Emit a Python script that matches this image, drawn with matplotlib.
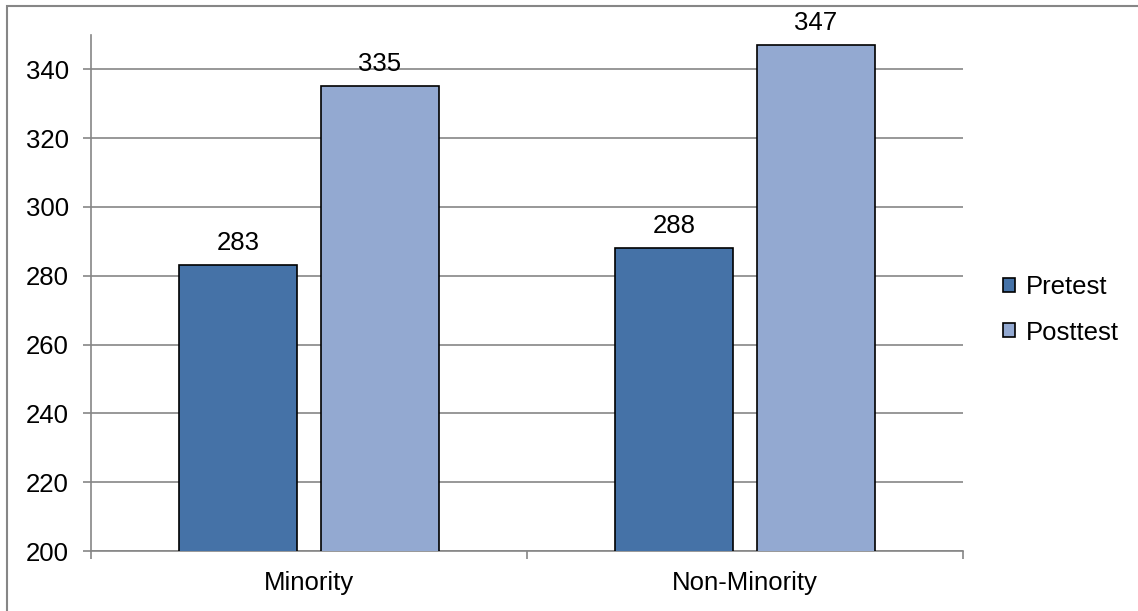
import matplotlib.pyplot as plt
from matplotlib.patches import Rectangle
import numpy as np

plt.rcParams['font.family'] = ['Liberation Sans', 'DejaVu Sans']

categories = ['Minority', 'Non-Minority']
pretest = [283, 288]
posttest = [335, 347]
yticks = [200, 220, 240, 260, 280, 300, 320, 340]

fig = plt.figure(figsize=(11.38, 6.11), dpi=100)
ax = fig.add_axes([0.080, 0.098, 0.766, 0.845])

x = np.arange(len(categories))
w = 0.27
off = 0.163
b1 = ax.bar(x - off, pretest, w, color='#4572A7', edgecolor='black', lw=1.2,
            label='Pretest', zorder=3)
b2 = ax.bar(x + off, posttest, w, color='#93A9D1', edgecolor='black', lw=1.2,
            label='Posttest', zorder=3)
for bars, vals in ((b1, pretest), (b2, posttest)):
    for r, v in zip(bars, vals):
        ax.text(r.get_x() + r.get_width() / 2, v + 3, str(v), ha='center', va='bottom',
                fontsize=18.5)

ax.set_ylim(200, 350)
ax.set_xlim(-0.5, 1.5)
ax.set_yticks(yticks)
ax.tick_params(axis='y', labelsize=18.5, length=6, color='#868686', width=1.2, pad=10)
ax.grid(axis='y', color='#868686', lw=1.2, zorder=0)
ax.set_xticks([-0.5, 0.5, 1.5])
ax.set_xticklabels([])
ax.set_xticks(x, minor=True)
ax.set_xticklabels(categories, minor=True, fontsize=18.5)
ax.tick_params(axis='x', which='major', length=6, color='#868686', width=1.2)
ax.tick_params(axis='x', which='minor', length=0, pad=14)
for s in ('top', 'right'):
    ax.spines[s].set_visible(False)
for s in ('left', 'bottom'):
    ax.spines[s].set_color('#868686')
    ax.spines[s].set_linewidth(1.2)

fig.legend(loc='center left', bbox_to_anchor=(0.861, 0.4926), frameon=False, fontsize=18.5,
           handlelength=0.45, handleheight=0.45, handletextpad=0.45, labelspacing=0.82)

fig.patches.append(Rectangle((7 / 1138, -0.05), 1.1, 1 - 6 / 611 + 0.05,
                             transform=fig.transFigure, fill=False,
                             edgecolor='#868686', lw=1.5))

fig.savefig('out.png', dpi=100)
